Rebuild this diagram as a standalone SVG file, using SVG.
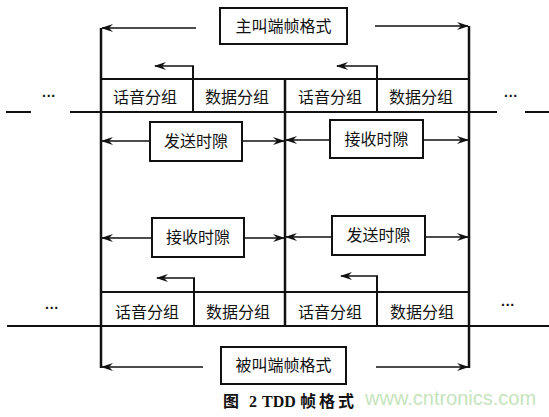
<svg xmlns="http://www.w3.org/2000/svg" width="549" height="417" viewBox="0 0 549 417">
<defs>
<marker id="ah" viewBox="0 0 12 8" refX="11" refY="4" markerWidth="12" markerHeight="8" markerUnits="userSpaceOnUse" orient="auto">
<path d="M0,0 L12,4 L0,8 L4,4 Z" fill="#111"/>
</marker>
</defs>
<style>
.ln{stroke:#111;stroke-width:2;fill:none}
.vl{stroke:#111;stroke-width:2.5;fill:none}
.ar{stroke:#111;stroke-width:1.6;fill:none;marker-end:url(#ah)}
.bx{stroke:#111;stroke-width:2;fill:#fff}
.t{font-family:"Noto Sans CJK SC","Noto Sans CJK TC",sans-serif;font-size:16px;fill:#111;text-anchor:middle}
.d{font-family:"Liberation Sans",sans-serif;font-size:14px;fill:#111;text-anchor:middle;font-weight:bold}
.cap{font-family:"Liberation Serif","Noto Sans CJK SC",serif;font-size:16px;fill:#111;font-weight:bold}
.wm{font-family:"Liberation Sans",sans-serif;font-size:20px;fill:#c6e4bb}
</style>
<rect width="549" height="417" fill="#fff"/>
<g id="connectors">
<path class="vl" d="M101,28 V368 M469,26 V368 M285,79 V327"/>
<path class="ln" d="M101,79 H469 M6,112 H31 M70,112 H497 M525,112 H549 M101,292 H469 M7,326 H549"/>
<path class="ln" d="M193,112 V66 M377,112 V66 M194,326 V278 M377,326 V276"/>
<path class="ar" d="M194,66 H155"/>
<path class="ar" d="M378,66 H337"/>
<path class="ar" d="M195,278 H157"/>
<path class="ar" d="M378,276 H341"/>
<path class="ar" d="M196,28 H102"/>
<path class="ar" d="M375,26 H468"/>
<path class="ar" d="M203,367 H102"/>
<path class="ar" d="M376,367 H468"/>
<path class="ar" d="M150,141 H102"/>
<path class="ar" d="M242,141 H284"/>
<path class="ar" d="M330,140 H286"/>
<path class="ar" d="M423,140 H468"/>
<path class="ar" d="M152,238 H102"/>
<path class="ar" d="M244,238 H284"/>
<path class="ar" d="M332,237 H286"/>
<path class="ar" d="M425,237 H468"/>
</g>
<g id="master-frame"><rect class="bx" x="220" y="8" width="127" height="36"/><text class="t" x="283.5" y="32">主叫端帧格式</text></g>
<g id="slave-frame"><rect class="bx" x="221" y="347" width="125" height="37"/><text class="t" x="283.5" y="371">被叫端帧格式</text></g>
<g id="top-row">
<text class="t" x="145" y="103">话音分组</text>
<text class="t" x="237" y="103">数据分组</text>
<text class="t" x="330" y="103">话音分组</text>
<text class="t" x="421" y="103">数据分组</text>
<text class="d" x="49" y="101">···</text>
<text class="d" x="511" y="101">···</text>
</g>
<g id="bottom-row">
<text class="t" x="147" y="318">话音分组</text>
<text class="t" x="238" y="318">数据分组</text>
<text class="t" x="330" y="318">话音分组</text>
<text class="t" x="422" y="318">数据分组</text>
<text class="d" x="52" y="313">···</text>
<text class="d" x="508" y="310">···</text>
</g>
<g id="tx1"><rect class="bx" x="150" y="122" width="92" height="39"/><text class="t" x="196" y="147">发送时隙</text></g>
<g id="rx1"><rect class="bx" x="330" y="120" width="93" height="38"/><text class="t" x="376.5" y="145">接收时隙</text></g>
<g id="rx2"><rect class="bx" x="152" y="218" width="92" height="39"/><text class="t" x="198" y="243">接收时隙</text></g>
<g id="tx2"><rect class="bx" x="332" y="216" width="93" height="39"/><text class="t" x="378.5" y="241">发送时隙</text></g>
<g id="caption">
<text class="cap" y="407"><tspan x="223">图</tspan><tspan x="249">2</tspan><tspan x="262">TDD</tspan><tspan x="300" letter-spacing="3">帧格式</tspan></text>
<text class="wm" x="365" y="405">www.cntronics.com</text>
</g>
</svg>
